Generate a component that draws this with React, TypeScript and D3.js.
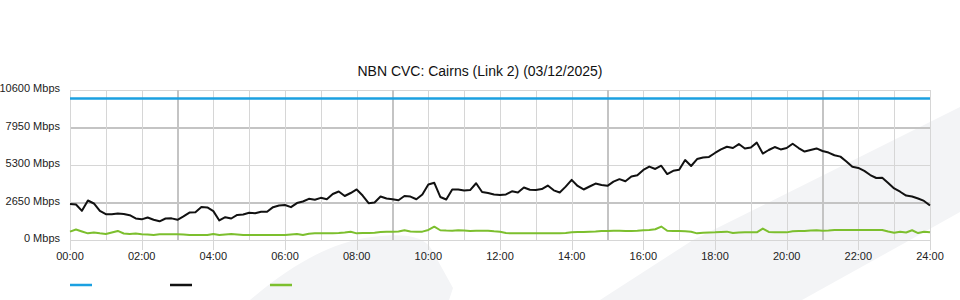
import React from "react";
import * as d3 from "d3";

const TITLE = "NBN CVC: Cairns (Link 2) (03/12/2025)";
const yTicks = [0, 2650, 5300, 7950, 10600];
const xTickHours = [0, 2, 4, 6, 8, 10, 12, 14, 16, 18, 20, 22, 24];
const majorGridHours = [3, 9, 15, 21];
const majorGridValues = [2650, 7950];

// sample step in minutes (10-minute samples, 00:00 .. 24:00)
const SAMPLE_MINUTES = 10;

const capacityTimes = [0, 1440];
const capacityValues = [10000, 10000];

const trafficValues = [
  2540, 2510, 2060, 2790, 2580, 2050, 1820, 1820, 1870, 1840,
  1750, 1520, 1460, 1590, 1430, 1320, 1520, 1530, 1430, 1670,
  1940, 1960, 2330, 2300, 2040, 1380, 1610, 1520, 1770, 1800,
  1920, 1890, 1990, 2000, 2320, 2440, 2470, 2320, 2610, 2720,
  2910, 2840, 2980, 2880, 3250, 3430, 3110, 3320, 3570, 3140,
  2600, 2650, 3070, 2930, 2880, 2810, 3110, 3070, 2880, 3220,
  3920, 4040, 3040, 2860, 3570, 3570, 3500, 3530, 4010, 3390,
  3320, 3220, 3180, 3220, 3440, 3360, 3710, 3550, 3530, 3600,
  3850, 3510, 3360, 3770, 4250, 3820, 3570, 3780, 3990, 3890,
  3830, 4120, 4300, 4150, 4490, 4570, 4950, 5190, 5020, 5250,
  4660, 4890, 4960, 5650, 5230, 5720, 5830, 5870, 6150, 6400,
  6590, 6500, 6780, 6470, 6540, 6880, 6110, 6360, 6570, 6400,
  6500, 6800, 6500, 6250, 6360, 6470, 6290, 6180, 5990, 5890,
  5550, 5170, 5090, 4880, 4590, 4380, 4400, 4030, 3640, 3410,
  3140, 3070, 2930, 2760, 2440,
];

const greenValues = [
  590, 740, 600, 470, 530, 470, 420, 530, 640, 460,
  420, 460, 410, 390, 350, 400, 400, 400, 400, 390,
  350, 350, 350, 350, 420, 350, 390, 420, 390, 350,
  350, 350, 350, 350, 350, 350, 350, 390, 420, 350,
  440, 470, 470, 470, 470, 490, 530, 580, 470, 490,
  490, 520, 570, 590, 590, 600, 690, 600, 590, 590,
  710, 940, 690, 670, 660, 690, 670, 640, 650, 650,
  650, 610, 580, 490, 470, 470, 470, 470, 470, 470,
  470, 470, 470, 490, 540, 570, 570, 590, 600, 640,
  640, 650, 660, 640, 640, 650, 690, 710, 760, 950,
  650, 640, 640, 610, 580, 470, 510, 530, 540, 570,
  590, 490, 530, 540, 540, 540, 810, 570, 540, 540,
  540, 620, 640, 640, 670, 690, 650, 670, 710, 710,
  710, 710, 710, 710, 710, 710, 710, 600, 510, 580,
  530, 690, 490, 580, 540,
];

const legendColors = ["#1ba0e1", "#111111", "#7cbf2e"];

const W = 960;
const H = 300;
const FONT = "'Liberation Sans', Arial, Helvetica, sans-serif";

export default function App() {
  const x = d3.scaleLinear().domain([0, 1440]).range([70, 930]);
  const y = d3.scaleLinear().domain([0, 10600]).range([240, 90]);

  const line = d3
    .line<[number, number]>()
    .x((d) => x(d[0]))
    .y((d) => y(d[1]));

  const traffic: [number, number][] = trafficValues.map((v, i) => [i * SAMPLE_MINUTES, v]);
  const green: [number, number][] = greenValues.map((v, i) => [i * SAMPLE_MINUTES, v]);
  const capacity: [number, number][] = capacityValues.map((v, i) => [capacityTimes[i], v]);

  const hours = d3.range(0, 25);

  return (
    <svg
      width={W}
      height={H}
      style={{ position: "absolute", left: 0, top: 0, display: "block", background: "#fff" }}
    >
      {/* watermark */}
      <path
        d="M250,300 C290,266 330,242 372,237 C405,233 424,236 432,250 L453,288 L449,300 Z"
        fill="#f3f4f6"
      />
      <path d="M600,300 L693,240 L960,107 L960,212 L910,240 L802,300 Z" fill="#f3f4f6" />

      <text x={480} y={76} textAnchor="middle" fontFamily={FONT} fontSize={14} fill="#111">
        {TITLE}
      </text>

      {/* horizontal grid */}
      {yTicks.map((t) => {
        const major = majorGridValues.includes(t);
        return (
          <line
            key={"h" + t}
            x1={70}
            x2={930}
            y1={Math.round(y(t)) + (major ? 0 : 0.5)}
            y2={Math.round(y(t)) + (major ? 0 : 0.5)}
            stroke={major ? "#c4c4c4" : "#d6d6d6"}
            strokeWidth={major ? 2 : 1}
          />
        );
      })}

      {/* vertical grid */}
      {hours.map((h) => {
        const major = majorGridHours.includes(h);
        const xx = Math.round(x(h * 60)) + (major ? 0 : 0.5);
        const isTick = h % 2 === 0;
        return (
          <line
            key={"v" + h}
            x1={xx}
            x2={xx}
            y1={90}
            y2={isTick ? 250 : 240}
            stroke={major ? "#c4c4c4" : "#d6d6d6"}
            strokeWidth={major ? 2 : 1}
          />
        );
      })}

      {/* y labels */}
      {yTicks.map((t) => (
        <text
          key={"yl" + t}
          x={60}
          y={y(t) + 2}
          textAnchor="end"
          fontFamily={FONT}
          fontSize={11}
          fill="#222"
        >
          {`${t} Mbps`}
        </text>
      ))}

      {/* x labels */}
      {xTickHours.map((h) => (
        <text
          key={"xl" + h}
          x={x(h * 60)}
          y={260}
          textAnchor="middle"
          fontFamily={FONT}
          fontSize={11}
          fill="#222"
        >
          {`${String(h).padStart(2, "0")}:00`}
        </text>
      ))}

      {/* series */}
      <path d={line(capacity) || ""} fill="none" stroke={legendColors[0]} strokeWidth={2.5} />
      <path d={line(green) || ""} fill="none" stroke={legendColors[2]} strokeWidth={2} strokeLinejoin="round" />
      <path d={line(traffic) || ""} fill="none" stroke={legendColors[1]} strokeWidth={2} strokeLinejoin="round" />

      {/* legend */}
      {legendColors.map((c, i) => (
        <line key={"lg" + i} x1={70 + i * 100} x2={92 + i * 100} y1={285} y2={285} stroke={c} strokeWidth={2.5} />
      ))}
    </svg>
  );
}
